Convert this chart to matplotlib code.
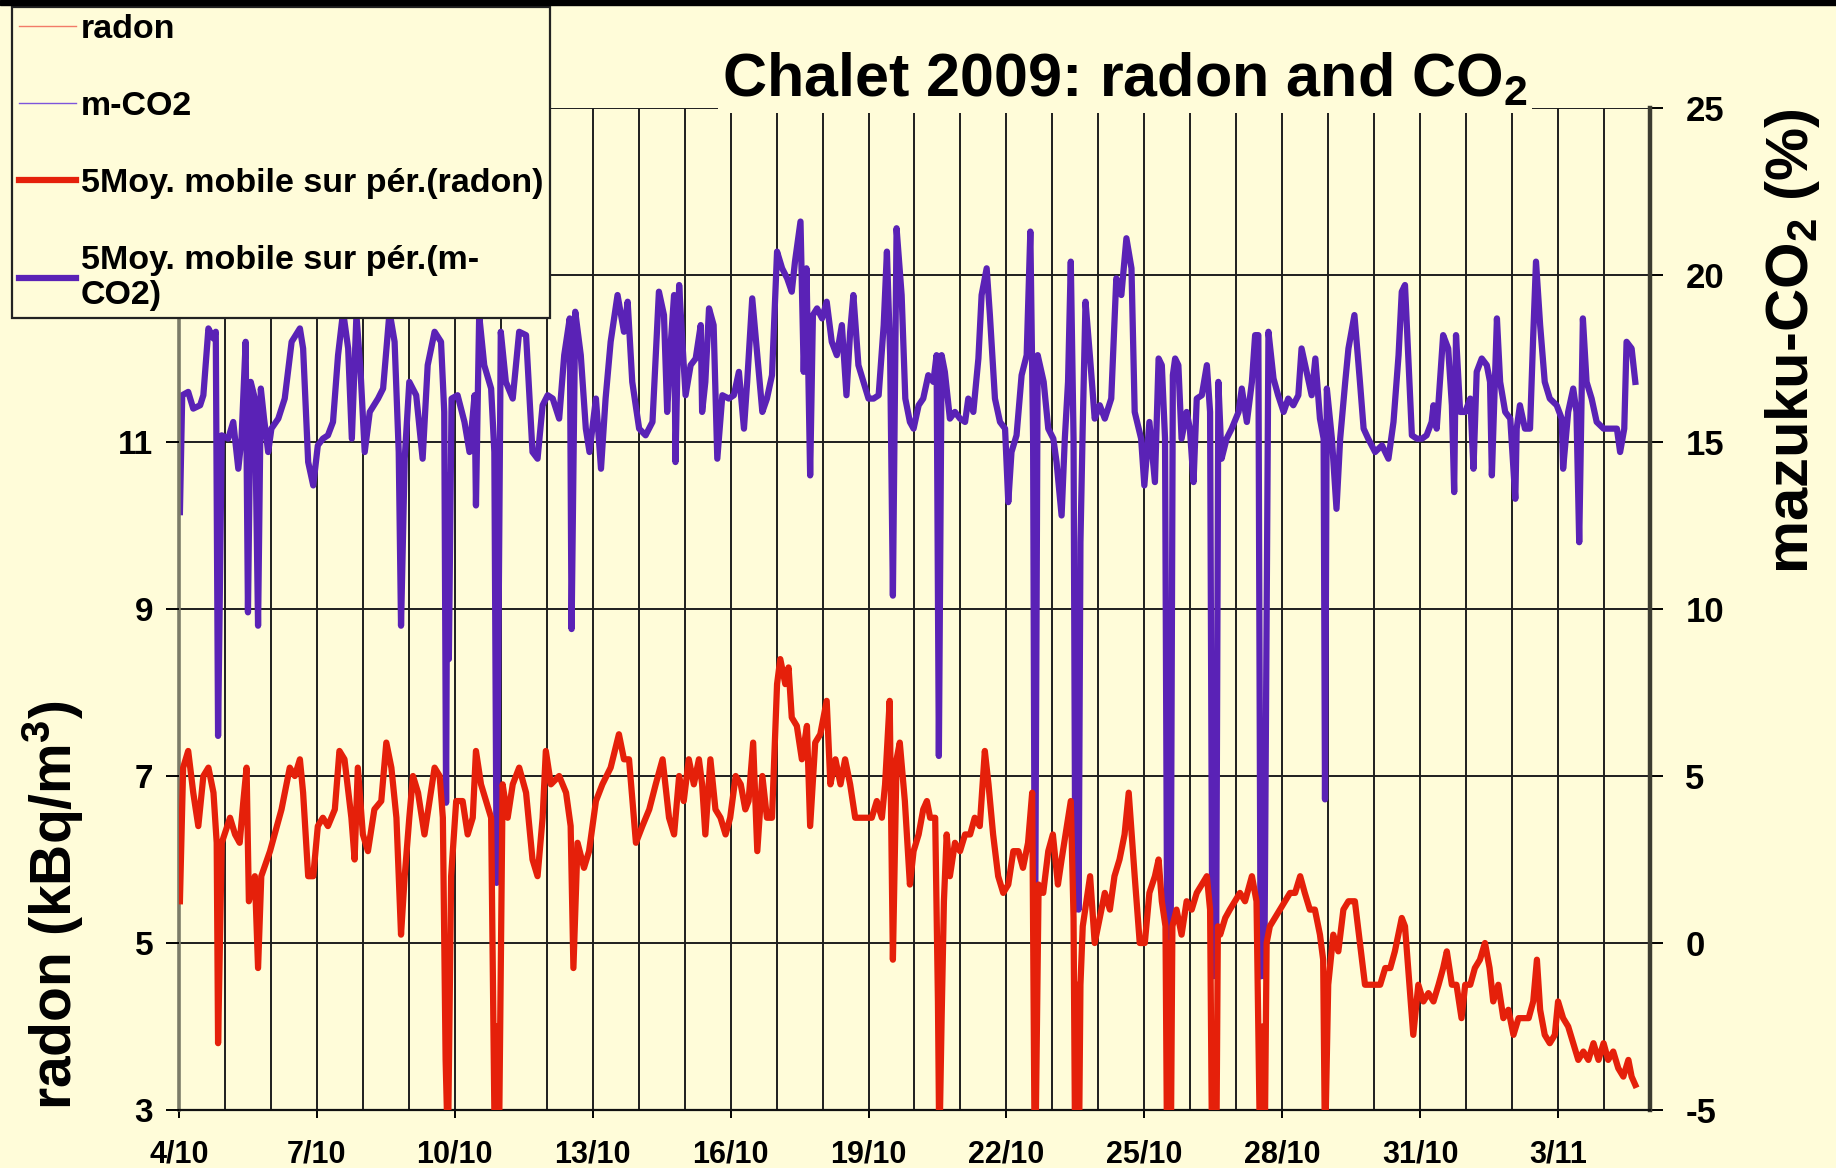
import matplotlib
matplotlib.use('Agg')
import matplotlib.pyplot as plt
from matplotlib.patches import Rectangle
from matplotlib.ticker import MultipleLocator, FuncFormatter
import pandas as pd

plt.rcParams['font.family'] = ['Liberation Sans', 'DejaVu Sans']
plt.rcParams['font.weight'] = 'bold'
plt.rcParams['mathtext.fontset'] = 'custom'
plt.rcParams['mathtext.rm'] = 'Liberation Sans:bold'
plt.rcParams['mathtext.bf'] = 'Liberation Sans:bold'
plt.rcParams['mathtext.default'] = 'bf'
plt.rcParams['axes.unicode_minus'] = False

START = pd.Timestamp('2009-10-04')
BG = '#fffcd9'

# (days since 4/10 00:00, radon kBq/m3)
radon_points = [
    (0.02, 5.5), (0.09, 7.1), (0.20, 7.3), (0.31, 6.8), (0.42, 6.4), (0.53, 7.0), (0.64, 7.1), (0.75, 6.8),
    (0.82, 6.2), (0.85, 3.8), (0.93, 6.2), (1.11, 6.5), (1.22, 6.3), (1.32, 6.2), (1.40, 6.7), (1.47, 7.1),
    (1.52, 5.5), (1.65, 5.8), (1.72, 4.7), (1.79, 5.8), (1.98, 6.1), (2.08, 6.3), (2.23, 6.6), (2.41, 7.1),
    (2.52, 7.0), (2.63, 7.2), (2.70, 6.8), (2.81, 5.8), (2.92, 5.8), (3.02, 6.4), (3.13, 6.5), (3.24, 6.4),
    (3.39, 6.6), (3.49, 7.3), (3.60, 7.2), (3.75, 6.5), (3.82, 6.0), (3.89, 7.1), (4.00, 6.3), (4.11, 6.1),
    (4.25, 6.6), (4.40, 6.7), (4.51, 7.4), (4.62, 7.1), (4.73, 6.5), (4.83, 5.1), (4.91, 5.8), (5.01, 6.5),
    (5.09, 7.0), (5.20, 6.8), (5.34, 6.3), (5.45, 6.7), (5.56, 7.1), (5.67, 7.0), (5.74, 6.5), (5.80, 3.6),
    (5.85, 2.5), (5.92, 5.8), (6.03, 6.7), (6.17, 6.7), (6.28, 6.3), (6.39, 6.5), (6.46, 7.3), (6.57, 6.9),
    (6.68, 6.7), (6.79, 6.5), (6.87, 2.5), (6.91, 4.0), (6.96, 2.5), (7.04, 6.9), (7.15, 6.5), (7.26, 6.9),
    (7.40, 7.1), (7.55, 6.8), (7.69, 6.0), (7.80, 5.8), (7.91, 6.5), (7.98, 7.3), (8.09, 6.9), (8.27, 7.0),
    (8.42, 6.8), (8.52, 6.4), (8.58, 4.7), (8.67, 6.2), (8.81, 5.9), (8.92, 6.1), (9.07, 6.7), (9.21, 6.9),
    (9.39, 7.1), (9.57, 7.5), (9.68, 7.2), (9.79, 7.2), (9.94, 6.2), (10.08, 6.4), (10.23, 6.6), (10.37, 6.9),
    (10.52, 7.2), (10.66, 6.5), (10.77, 6.3), (10.88, 7.0), (10.98, 6.7), (11.09, 7.2), (11.20, 6.9), (11.31, 7.2),
    (11.38, 6.9), (11.45, 6.3), (11.56, 7.2), (11.67, 6.6), (11.78, 6.5), (11.89, 6.3), (11.99, 6.5), (12.11, 7.0),
    (12.22, 6.9), (12.32, 6.6), (12.39, 6.7), (12.49, 7.4), (12.58, 6.1), (12.69, 7.0), (12.79, 6.5), (12.90, 6.5),
    (13.01, 8.1), (13.08, 8.4), (13.19, 8.1), (13.26, 8.3), (13.33, 7.7), (13.44, 7.6), (13.55, 7.2), (13.66, 7.6),
    (13.73, 6.4), (13.84, 7.4), (13.95, 7.5), (14.09, 7.9), (14.17, 6.9), (14.28, 7.2), (14.39, 6.9), (14.49, 7.2),
    (14.60, 6.9), (14.71, 6.5), (14.82, 6.5), (14.96, 6.5), (15.07, 6.5), (15.18, 6.7), (15.29, 6.5), (15.36, 6.9),
    (15.46, 7.9), (15.53, 4.8), (15.61, 7.2), (15.68, 7.4), (15.79, 6.7), (15.90, 5.7), (15.98, 6.1), (16.09, 6.3),
    (16.19, 6.6), (16.27, 6.7), (16.34, 6.5), (16.45, 6.5), (16.51, 4.3), (16.54, 2.5), (16.59, 4.1), (16.64, 5.5),
    (16.70, 6.3), (16.77, 5.8), (16.88, 6.2), (16.99, 6.1), (17.10, 6.3), (17.21, 6.3), (17.31, 6.5), (17.42, 6.4),
    (17.53, 7.3), (17.61, 6.9), (17.71, 6.3), (17.82, 5.8), (17.93, 5.6), (18.04, 5.7), (18.15, 6.1), (18.26, 6.1),
    (18.36, 5.9), (18.47, 6.2), (18.56, 6.8), (18.62, 2.0), (18.70, 5.7), (18.80, 5.6), (18.91, 6.1), (19.01, 6.3),
    (19.12, 5.7), (19.20, 6.0), (19.40, 6.7), (19.46, 5.3), (19.50, 2.0), (19.53, 4.5), (19.57, 2.0), (19.61, 4.5),
    (19.66, 5.2), (19.82, 5.8), (19.92, 5.0), (20.03, 5.3), (20.14, 5.6), (20.25, 5.4), (20.35, 5.8), (20.46, 6.0),
    (20.57, 6.3), (20.66, 6.8), (20.79, 5.8), (20.90, 5.0), (21.01, 5.0), (21.11, 5.6), (21.23, 5.8), (21.31, 6.0),
    (21.38, 5.5), (21.46, 5.2), (21.50, 2.0), (21.53, 5.0), (21.57, 2.0), (21.61, 5.2), (21.70, 5.4), (21.81, 5.1),
    (21.92, 5.5), (22.03, 5.4), (22.14, 5.6), (22.25, 5.7), (22.36, 5.8), (22.43, 5.4), (22.48, 2.0), (22.52, 4.0),
    (22.56, 2.0), (22.60, 5.2), (22.65, 5.1), (22.76, 5.3), (22.86, 5.4), (22.97, 5.5), (23.08, 5.6), (23.19, 5.5),
    (23.34, 5.8), (23.44, 5.5), (23.53, 2.0), (23.57, 4.0), (23.61, 2.0), (23.66, 5.0), (23.73, 5.2), (23.84, 5.3),
    (23.95, 5.4), (24.06, 5.5), (24.17, 5.6), (24.28, 5.6), (24.39, 5.8), (24.49, 5.6), (24.60, 5.4), (24.71, 5.4),
    (24.82, 5.1), (24.89, 4.8), (24.93, 2.5), (25.00, 4.5), (25.11, 5.1), (25.22, 4.9), (25.33, 5.4), (25.44, 5.5),
    (25.58, 5.5), (25.69, 5.0), (25.80, 4.5), (25.91, 4.5), (26.02, 4.5), (26.13, 4.5), (26.24, 4.7), (26.35, 4.7),
    (26.45, 4.9), (26.60, 5.3), (26.67, 5.2), (26.74, 4.7), (26.85, 3.9), (26.96, 4.5), (27.07, 4.3), (27.18, 4.4),
    (27.29, 4.3), (27.40, 4.5), (27.50, 4.7), (27.58, 4.9), (27.69, 4.5), (27.79, 4.5), (27.90, 4.1), (27.98, 4.5),
    (28.09, 4.5), (28.19, 4.7), (28.30, 4.8), (28.41, 5.0), (28.51, 4.7), (28.59, 4.3), (28.70, 4.5), (28.81, 4.1),
    (28.92, 4.2), (29.03, 3.9), (29.14, 4.1), (29.25, 4.1), (29.36, 4.1), (29.46, 4.3), (29.54, 4.8), (29.61, 4.2),
    (29.71, 3.9), (29.82, 3.8), (29.93, 3.9), (30.00, 4.3), (30.11, 4.1), (30.22, 4.0), (30.33, 3.8), (30.44, 3.6),
    (30.55, 3.7), (30.66, 3.6), (30.77, 3.8), (30.88, 3.6), (30.99, 3.8), (31.09, 3.6), (31.20, 3.7), (31.31, 3.5),
    (31.42, 3.4), (31.53, 3.6), (31.60, 3.4), (31.68, 3.3),
]

# (days since 4/10 00:00, mazuku CO2 %)
co2_points = [
    (0.02, 12.9), (0.07, 16.4), (0.20, 16.5), (0.31, 16.0), (0.46, 16.1), (0.53, 16.4), (0.64, 18.4), (0.75, 18.1),
    (0.80, 18.3), (0.85, 6.2), (0.93, 15.2), (1.07, 15.1), (1.18, 15.6), (1.29, 14.2), (1.36, 15.1), (1.45, 18.0),
    (1.50, 9.9), (1.56, 16.8), (1.65, 16.3), (1.72, 9.5), (1.78, 16.6), (1.85, 15.7), (1.94, 14.7), (2.01, 15.4),
    (2.16, 15.7), (2.30, 16.3), (2.45, 18.0), (2.63, 18.4), (2.70, 17.8), (2.81, 14.4), (2.92, 13.7), (3.02, 14.9),
    (3.13, 15.1), (3.24, 15.2), (3.35, 15.6), (3.46, 17.6), (3.57, 18.9), (3.68, 17.8), (3.76, 15.1), (3.86, 18.8),
    (3.95, 17.1), (4.04, 14.7), (4.15, 15.9), (4.33, 16.3), (4.44, 16.6), (4.58, 18.9), (4.69, 18.0), (4.78, 14.7),
    (4.83, 9.5), (4.91, 14.5), (5.01, 16.8), (5.16, 16.4), (5.30, 14.5), (5.41, 17.3), (5.56, 18.3), (5.70, 18.0),
    (5.77, 15.9), (5.81, 4.2), (5.84, 14.0), (5.87, 8.5), (5.93, 16.3), (6.06, 16.4), (6.21, 15.6), (6.32, 14.7),
    (6.43, 16.4), (6.46, 13.1), (6.53, 18.8), (6.64, 17.3), (6.79, 16.6), (6.86, 14.7), (6.91, 1.8), (7.00, 18.3),
    (7.11, 16.8), (7.26, 16.3), (7.40, 18.3), (7.55, 18.2), (7.69, 14.7), (7.80, 14.5), (7.91, 16.1), (8.02, 16.4),
    (8.13, 16.3), (8.27, 15.7), (8.38, 17.6), (8.50, 18.7), (8.54, 9.4), (8.62, 18.9), (8.74, 17.6), (8.85, 15.4),
    (8.93, 14.7), (9.07, 16.3), (9.18, 14.2), (9.28, 16.3), (9.39, 18.0), (9.54, 19.4), (9.68, 18.3), (9.76, 19.2),
    (9.86, 16.8), (10.01, 15.4), (10.15, 15.2), (10.30, 15.6), (10.44, 19.5), (10.55, 18.8), (10.62, 15.9), (10.70, 18.0),
    (10.77, 19.4), (10.80, 14.4), (10.88, 19.7), (10.95, 18.0), (11.02, 16.4), (11.13, 17.3), (11.24, 17.5), (11.35, 18.5),
    (11.38, 15.9), (11.45, 16.8), (11.53, 19.0), (11.63, 18.5), (11.71, 14.5), (11.82, 16.4), (11.96, 16.3), (12.07, 16.4),
    (12.18, 17.1), (12.29, 15.4), (12.36, 16.8), (12.47, 19.3), (12.58, 17.6), (12.69, 15.9), (12.79, 16.3), (12.90, 17.0),
    (13.01, 20.7), (13.12, 20.2), (13.23, 19.9), (13.33, 19.5), (13.40, 20.4), (13.52, 21.6), (13.59, 17.1), (13.65, 20.2),
    (13.73, 14.0), (13.79, 18.8), (13.88, 19.0), (13.99, 18.7), (14.09, 19.2), (14.20, 18.0), (14.31, 17.6), (14.42, 18.5),
    (14.52, 16.4), (14.60, 18.3), (14.67, 19.4), (14.78, 17.3), (14.89, 16.8), (15.00, 16.3), (15.11, 16.3), (15.22, 16.4),
    (15.33, 18.5), (15.40, 20.7), (15.47, 17.6), (15.53, 10.4), (15.61, 21.4), (15.72, 19.4), (15.80, 16.3), (15.90, 15.6),
    (15.98, 15.4), (16.09, 16.1), (16.19, 16.3), (16.30, 17.0), (16.41, 16.8), (16.48, 17.6), (16.53, 5.6), (16.59, 17.6),
    (16.66, 17.1), (16.77, 15.7), (16.88, 15.9), (16.99, 15.7), (17.10, 15.6), (17.17, 16.3), (17.28, 15.9), (17.39, 17.5),
    (17.46, 19.4), (17.57, 20.2), (17.64, 18.8), (17.75, 16.3), (17.86, 15.6), (17.97, 15.4), (18.04, 13.2), (18.11, 14.7),
    (18.22, 15.2), (18.33, 17.0), (18.44, 17.6), (18.52, 21.3), (18.58, 15.1), (18.62, -1.0), (18.68, 17.6), (18.81, 16.8),
    (18.91, 15.4), (19.02, 15.1), (19.09, 14.4), (19.20, 12.8), (19.27, 15.1), (19.34, 16.8), (19.40, 20.4), (19.46, 15.1),
    (19.50, 1.0), (19.53, 10.0), (19.57, 1.0), (19.61, 12.0), (19.66, 15.5), (19.72, 19.2), (19.82, 17.5), (19.92, 15.7),
    (20.03, 16.1), (20.14, 15.7), (20.28, 16.3), (20.39, 19.9), (20.50, 19.4), (20.61, 21.1), (20.72, 20.2), (20.79, 15.9),
    (20.93, 15.1), (21.00, 13.7), (21.11, 15.6), (21.23, 13.8), (21.31, 17.5), (21.38, 17.3), (21.45, 15.1), (21.50, -1.0),
    (21.53, 3.0), (21.57, -1.0), (21.62, 17.0), (21.67, 17.5), (21.74, 17.3), (21.81, 15.1), (21.92, 15.9), (21.99, 15.4),
    (22.07, 13.8), (22.14, 16.3), (22.25, 16.4), (22.36, 17.3), (22.43, 15.9), (22.48, -1.0), (22.52, 4.0), (22.56, -1.0),
    (22.61, 16.8), (22.68, 14.5), (22.79, 15.1), (22.90, 15.4), (23.05, 15.9), (23.12, 16.6), (23.23, 15.6), (23.34, 16.8),
    (23.41, 18.2), (23.48, 18.2), (23.53, -1.0), (23.57, 4.0), (23.61, -1.0), (23.70, 18.3), (23.81, 16.9), (23.91, 16.4),
    (24.03, 15.9), (24.13, 16.3), (24.24, 16.1), (24.35, 16.4), (24.42, 17.8), (24.53, 17.1), (24.64, 16.4), (24.72, 17.5),
    (24.82, 15.7), (24.90, 15.1), (24.93, 4.3), (24.97, 16.6), (25.08, 15.1), (25.18, 13.0), (25.26, 15.1), (25.37, 16.8),
    (25.44, 17.8), (25.57, 18.8), (25.69, 16.8), (25.77, 15.4), (25.87, 15.1), (26.02, 14.7), (26.17, 14.9), (26.31, 14.5),
    (26.42, 15.6), (26.53, 17.6), (26.60, 19.5), (26.67, 19.7), (26.74, 17.6), (26.82, 15.2), (26.93, 15.1), (27.04, 15.1),
    (27.14, 15.2), (27.25, 15.6), (27.29, 16.1), (27.36, 15.4), (27.43, 16.8), (27.50, 18.2), (27.61, 17.8), (27.69, 16.1),
    (27.74, 13.5), (27.78, 18.2), (27.87, 15.9), (27.98, 15.9), (28.09, 16.3), (28.16, 14.2), (28.23, 17.1), (28.34, 17.5),
    (28.45, 17.3), (28.52, 16.8), (28.56, 14.0), (28.67, 18.7), (28.74, 16.8), (28.85, 15.9), (28.96, 15.7), (29.07, 13.3),
    (29.10, 15.4), (29.17, 16.1), (29.28, 15.4), (29.39, 15.4), (29.46, 18.2), (29.52, 20.4), (29.61, 18.5), (29.71, 16.8),
    (29.82, 16.3), (29.97, 16.1), (30.08, 15.7), (30.11, 14.2), (30.22, 15.9), (30.33, 16.6), (30.40, 15.9), (30.46, 12.0),
    (30.54, 18.7), (30.62, 16.8), (30.73, 16.3), (30.84, 15.6), (30.99, 15.4), (31.13, 15.4), (31.28, 15.4), (31.35, 14.7),
    (31.44, 15.4), (31.49, 18.0), (31.60, 17.8), (31.68, 16.8),
]

radon_t, radon = zip(*radon_points)
co2_t, co2 = zip(*co2_points)

radon_ticks = [3, 5, 7, 9, 11, 13, 15]
radon_tick_labels = ['3', '5', '7', '9', '11', '', '']
legend_labels = ['radon', 'm-CO2', '5Moy. mobile sur pér.(radon)', '5Moy. mobile sur pér.(m-\nCO2)']


def day_label(x, pos):
    d = START + pd.Timedelta(days=x)
    return f'{d.day}/{d.month}'


fig = plt.figure(figsize=(18.36, 11.68), dpi=100, facecolor=BG)
# CO2 on the host axes (right scale), radon on the twin so it is drawn on top
ax = fig.add_axes([179 / 1836, 58 / 1168, 1471 / 1836, 1002 / 1168])
ax.set_facecolor(BG)
axr = ax.twinx()

raw_co2, = ax.plot(co2_t, co2, color='#7d55dc', lw=1.0)
avg_co2, = ax.plot(co2_t, co2, color='#5a22b6', lw=4.5)
raw_rad, = axr.plot(radon_t, radon, color='#f27b68', lw=1.0)
avg_rad, = axr.plot(radon_t, radon, color='#e5200a', lw=4.5)

ax.set_xlim(0, 32)
ax.set_ylim(-5, 25)
axr.set_ylim(3, 15)

ax.xaxis.set_major_locator(MultipleLocator(3))
ax.xaxis.set_minor_locator(MultipleLocator(1))
ax.xaxis.set_major_formatter(FuncFormatter(day_label))
ax.yaxis.set_major_locator(MultipleLocator(5))
axr.set_yticks(radon_ticks, labels=radon_tick_labels)

ax.yaxis.tick_right()
axr.yaxis.tick_left()

ax.set_axisbelow(True)
ax.grid(which='both', axis='x', color='#1e1e1e', lw=1.4)
ax.grid(which='major', axis='y', color='#1e1e1e', lw=1.4)

ax.tick_params(axis='x', which='major', direction='out', length=6, width=1.4, pad=15, labelsize=22)
ax.tick_params(axis='x', which='minor', length=0)
ax.tick_params(axis='y', direction='out', length=9.5, width=1.4, pad=16, labelsize=25)
axr.tick_params(axis='y', direction='out', length=9.5, width=1.4, pad=9, labelsize=24)

ax.spines['top'].set_visible(False)
ax.spines['left'].set_color('#7b7b68')
ax.spines['left'].set_linewidth(2.6)
ax.spines['right'].set_color('#3b3b30')
ax.spines['right'].set_linewidth(3.2)
ax.spines['bottom'].set_color('#111111')
ax.spines['bottom'].set_linewidth(1.6)
for s in axr.spines.values():
    s.set_visible(False)

fig.text(53 / 1836, 1 - 1110 / 1168, 'radon (kBq/m$^3$)', rotation=90,
         ha='center', va='bottom', fontsize=41)
fig.text(1792 / 1836, 1 - 108 / 1168, 'mazuku-CO$_2$ (%)', rotation=90,
         ha='center', va='top', fontsize=43)
fig.text(1125 / 1836, 1 - 96 / 1168, 'Chalet 2009: radon and CO$_2$', ha='center',
         va='baseline', fontsize=44,
         bbox=dict(facecolor=BG, edgecolor='none', pad=3))

leg = fig.legend([raw_rad, raw_co2, avg_rad, avg_co2], legend_labels,
                 loc='upper left', bbox_to_anchor=(12 / 1836, 1 - 7 / 1168),
                 bbox_transform=fig.transFigure, borderaxespad=0,
                 prop=dict(size=24.5, weight='bold'), handlelength=1.67,
                 handletextpad=0.15, borderpad=0.2, labelspacing=1.35,
                 fancybox=False, framealpha=1, facecolor=BG, edgecolor='#222222')
leg.get_frame().set_linewidth(1.6)

# dark strip along the top edge
fig.add_artist(Rectangle((0, 1 - 5 / 1168), 1, 5 / 1168, transform=fig.transFigure,
                         color='black', zorder=10))

fig.savefig('out.png', dpi=100, facecolor=BG)
